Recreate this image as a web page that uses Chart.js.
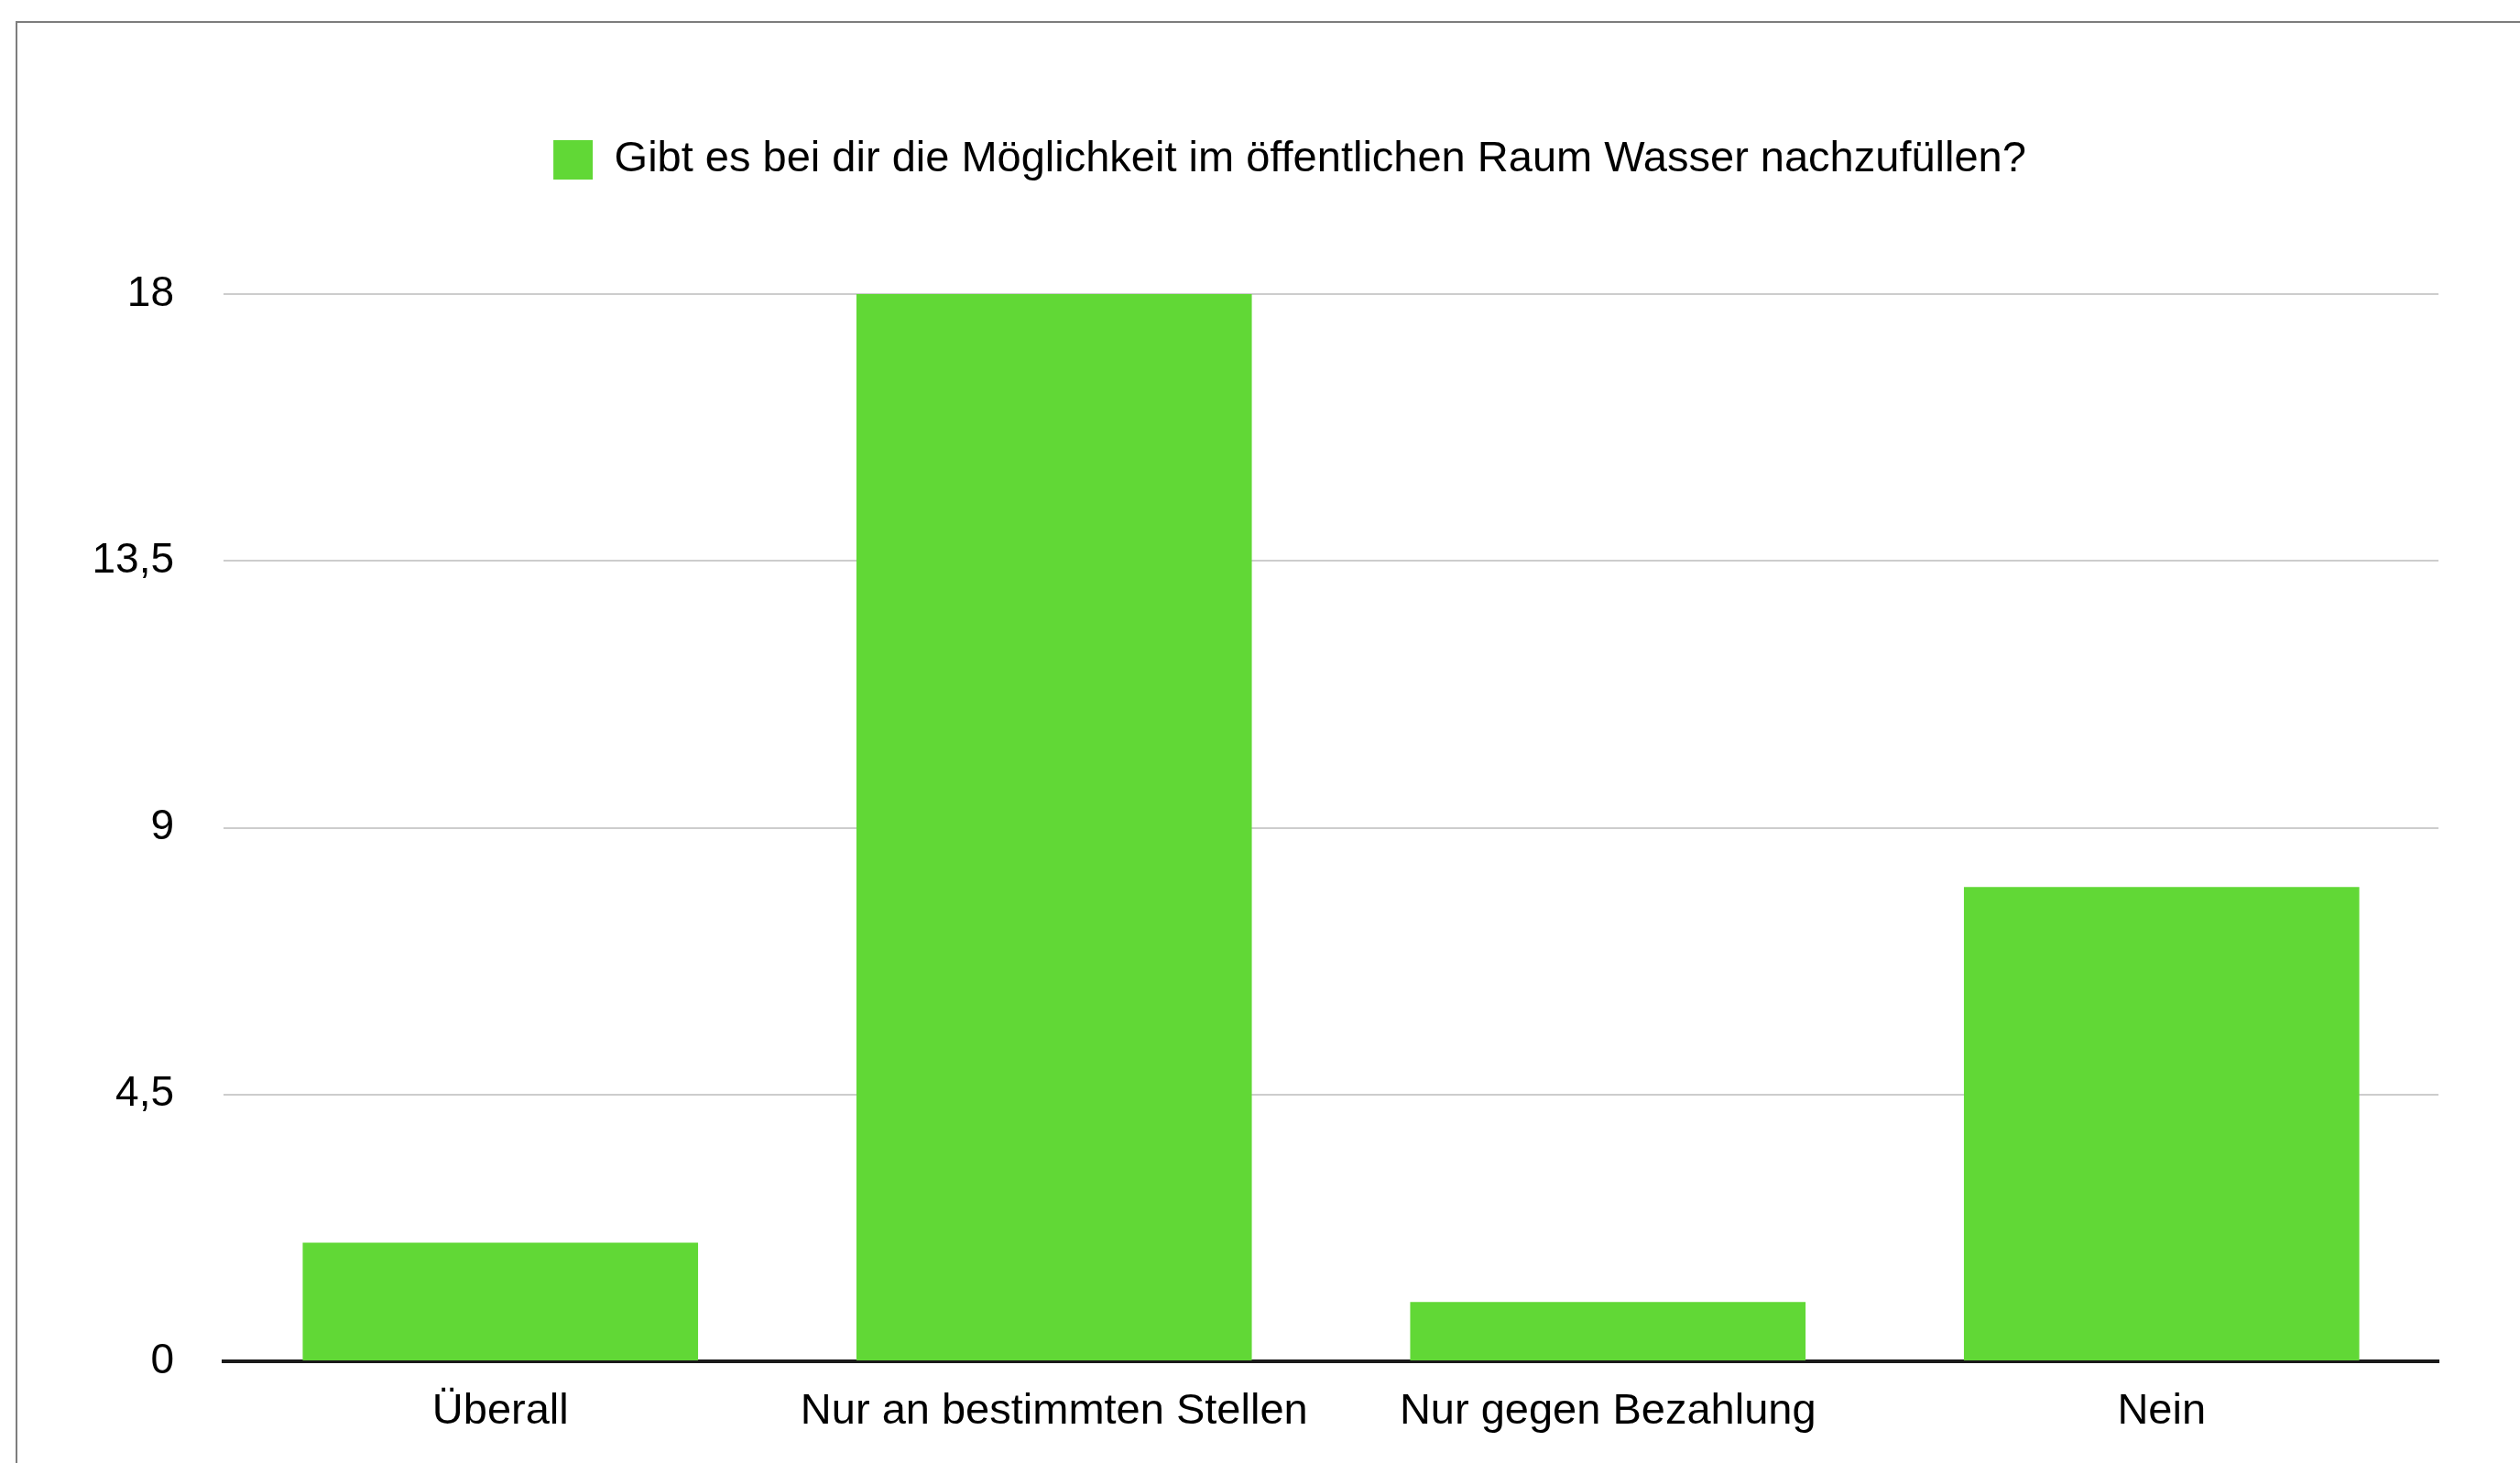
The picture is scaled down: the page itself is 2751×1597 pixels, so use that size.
<!DOCTYPE html>
<html lang="de">
<head>
<meta charset="utf-8">
<title>Wasser nachfüllen</title>
<script src="https://cdn.jsdelivr.net/npm/chart.js@4.4.1/dist/chart.umd.min.js"></script>
<style>
  html, body { margin: 0; padding: 0; background: #fff; overflow: hidden; }
  .rahmen {
    position: absolute; left: 17px; top: 23px; width: 2800px; height: 1700px;
    border-top: 2px solid #7d7d7d; border-left: 2px solid #7d7d7d;
  }
  #chart { position: absolute; left: 0; top: 0; }
</style>
</head>
<body>
<div class="rahmen"></div>
<canvas id="chart" width="2751" height="1597"></canvas>
<script>
const FRAGE = 'Gibt es bei dir die Möglichkeit im öffentlichen Raum Wasser nachzufüllen?';
const KATEGORIEN = ['Überall', 'Nur an bestimmten Stellen', 'Nur gegen Bezahlung', 'Nein'];
const ANTWORTEN = [2, 18, 1, 8];
const Y_TICKS = [0, 4.5, 9, 13.5, 18];

const GRUEN = '#61d836';
const SCHRIFT = '"Liberation Sans", Arial, Helvetica, sans-serif';
const LEGENDE_MITTE = 1408;

// Legende: Abstand nach unten und horizontale Lage
const legendeAnpassen = {
  id: 'legendeAnpassen',
  beforeInit(chart) {
    const fit = chart.legend.fit;
    chart.legend.fit = function () {
      fit.bind(chart.legend)();
      this.height += 113;
    };
  },
  afterLayout(chart) {
    const l = chart.legend;
    const dx = LEGENDE_MITTE - (l.left + l.right) / 2;
    l.left += dx;
    l.right += dx;
  },
};

new Chart(document.getElementById('chart'), {
  type: 'bar',
  data: {
    labels: KATEGORIEN,
    datasets: [{
      label: FRAGE,
      data: ANTWORTEN,
      backgroundColor: GRUEN,
      borderWidth: 0,
      barPercentage: 0.714,
      categoryPercentage: 1.0,
    }],
  },
  options: {
    responsive: false,
    devicePixelRatio: 1,
    animation: false,
    layout: { padding: { left: 40, right: 89, top: 141, bottom: 0 } },
    scales: {
      x: {
        grid: { display: false },
        border: { display: true, color: '#1a1a1a', width: 4 },
        ticks: {
          color: '#000',
          padding: 19,
          maxRotation: 0,
          font: { family: SCHRIFT, size: 47 },
        },
        afterFit: s => { s.height = 111; },
      },
      y: {
        min: 0,
        max: 18,
        afterBuildTicks: s => { s.ticks = Y_TICKS.map(v => ({ value: v })); },
        grid: { color: '#cdcdcd', lineWidth: 2, drawTicks: false },
        border: { display: false },
        ticks: {
          color: '#000',
          padding: 54,
          font: { family: SCHRIFT, size: 46 },
          callback: v => String(v).replace('.', ','),
        },
        afterFit: s => { s.width = 204; },
      },
    },
    plugins: {
      legend: {
        position: 'top',
        labels: {
          color: '#000',
          boxWidth: 43,
          boxHeight: 43,
          padding: 10,
          font: { family: SCHRIFT, size: 47 },
        },
      },
      tooltip: { enabled: false },
    },
  },
  plugins: [legendeAnpassen],
});
</script>
</body>
</html>
